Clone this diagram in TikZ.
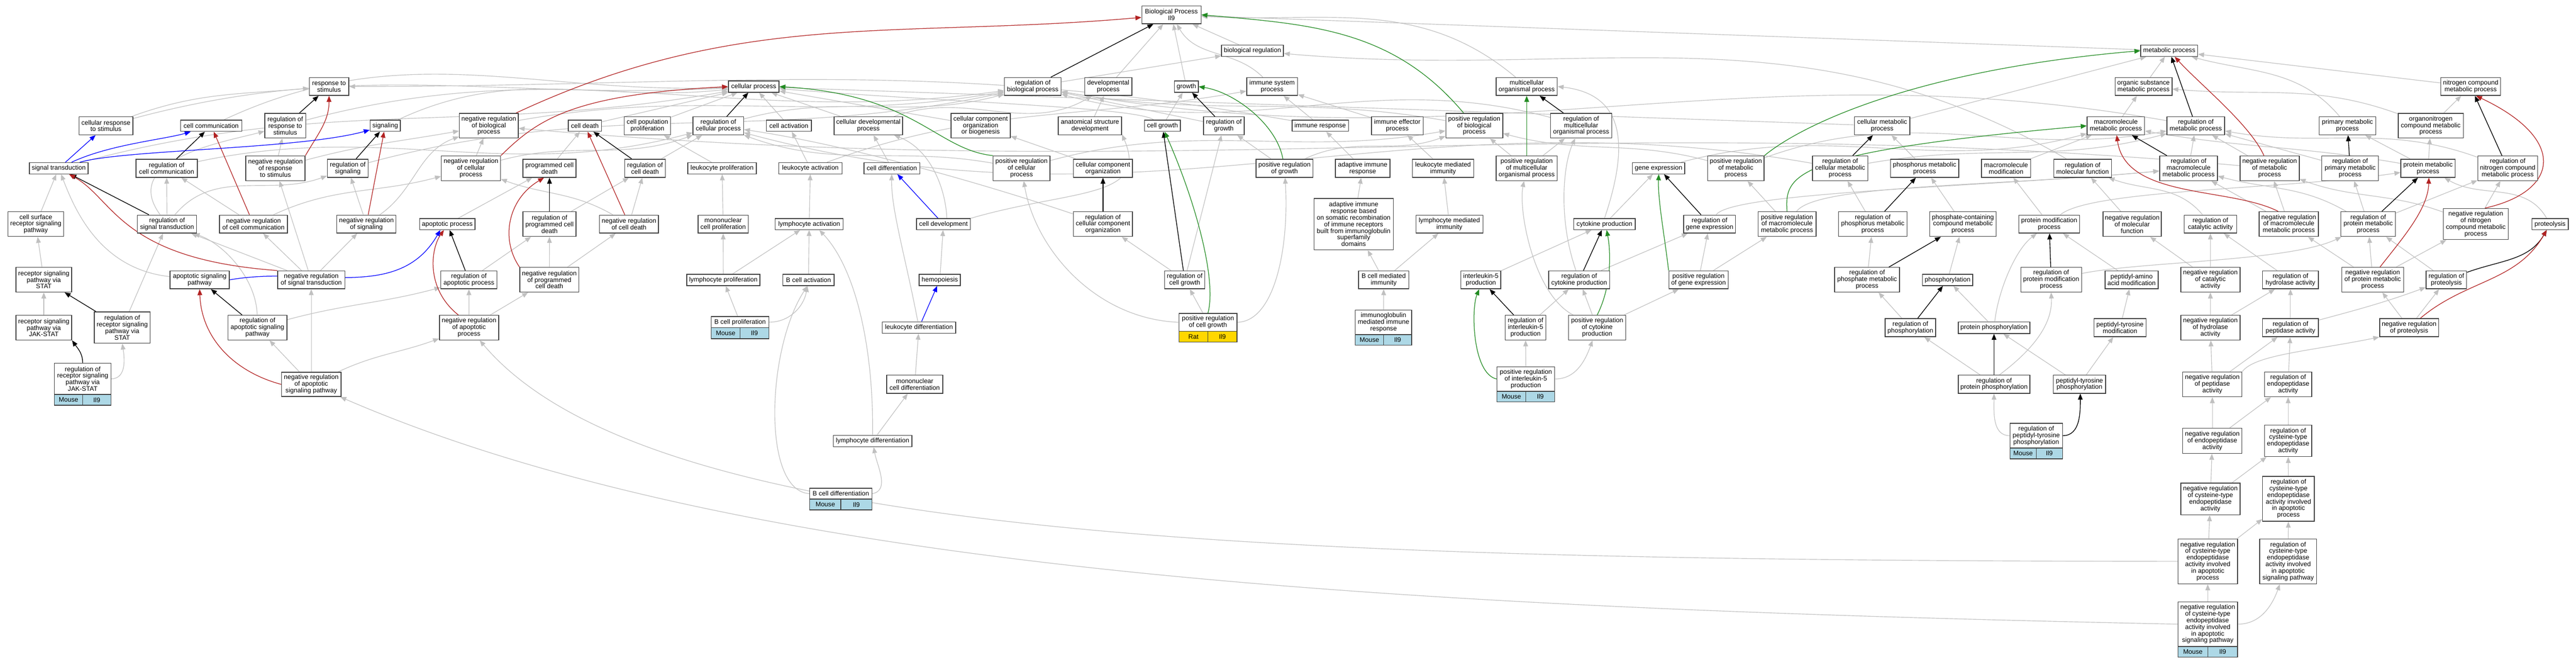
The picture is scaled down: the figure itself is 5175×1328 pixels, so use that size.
\documentclass[tikz,border=0pt]{standalone}
\usepackage{fontspec}
\setmainfont{Liberation Sans}
\usetikzlibrary{arrows.meta,backgrounds}
\definecolor{isagray}{RGB}{192,192,192}
\definecolor{nregred}{RGB}{178,34,34}
\definecolor{pregreen}{RGB}{34,139,34}
\definecolor{annoblue}{RGB}{173,216,230}
\definecolor{annogold}{RGB}{255,215,0}
\newcommand{\tfont}{\fontsize{1.3pt}{1.33pt}\selectfont}
\tikzset{
 term/.style={draw=black!75, line width=0.15pt, fill=white, align=center, inner sep=0pt, font=\tfont, text=black},
 cellbox/.style={draw=black!75, line width=0.15pt, inner sep=0pt, font=\tfont, text=black},
 Mouse/.style={fill=annoblue},
 Rat/.style={fill=annogold},
 lnk/.style={line width=0.12pt, -{Triangle[length=1.2pt,width=0.95pt]}},
 isa/.style={lnk, color=isagray},
 reg/.style={lnk, color=black, line width=0.14pt},
 nreg/.style={lnk, color=nregred, line width=0.13pt},
 preg/.style={lnk, color=pregreen, line width=0.13pt},
 partof/.style={lnk, color=blue, line width=0.13pt}
}
\newcommand{\T}[6]{\node[term,minimum width={#4*0.1pt},minimum height={#5*0.1pt}] (#1) at (#2,#3) {#6};}
\newcommand{\TA}[9]{%
 \node[term,minimum width={#4*0.1pt},minimum height={#5*0.1pt}] (#1) at (#2,#3) {#9};
 \pgfmathsetmacro{\hw}{#4*0.05}%
 \pgfmathsetmacro{\xl}{#2-#4/4}%
 \pgfmathsetmacro{\xr}{#2+#4/4}%
 \node[cellbox,#8,minimum width=\hw pt,minimum height={#7*0.1pt}] (#1-s) at (\xl,#6) {#8};
 \node[cellbox,#8,minimum width=\hw pt,minimum height={#7*0.1pt}] (#1-g) at (\xr,#6) {Il9};
}
\begin{document}
\begin{tikzpicture}[x=0.1pt,y=-0.1pt]
\useasboundingbox (0,0) rectangle (5175,1328);
% row 1-2
\T{bp}{2353.3}{29.7}{119}{36}{Biological Process\\Il9}
\T{breg}{2516.1}{101.9}{124.4}{22.6}{biological regulation}
\T{mp}{4357.8}{101.9}{114.4}{22.6}{metabolic process}
% row 3
\T{resp}{661}{173.7}{79}{36}{response to\\stimulus}
\T{cp}{1514.2}{173.9}{101.7}{22.6}{cellular process}
\T{rbp}{2074.7}{173.7}{113.9}{36}{regulation of\\biological process}
\T{devp}{2226.4}{173.7}{95}{36}{developmental\\process}
\T{growth}{2383.3}{173.9}{47.8}{22.6}{growth}
\T{isp}{2555.6}{173.7}{102.3}{36}{immune system\\process}
\T{mop}{3067}{173.7}{122.8}{36}{multicellular\\organismal process}
\T{osmp}{4306.1}{173.7}{114.4}{36}{organic substance\\metabolic process}
\T{npmp}{4963.4}{173.7}{120.1}{36}{nitrogen compound\\metabolic process}
% row 4
\T{crs}{212.8}{252.6}{108}{36}{cellular response\\to stimulus}
\T{ccom}{424.2}{252.4}{123}{22.6}{cell communication}
\T{rrs}{573}{252.4}{82}{49.4}{regulation of\\response to\\stimulus}
\T{sig}{773.9}{252.4}{61}{22.6}{signaling}
\T{nrbp}{982}{252.4}{118.3}{49.4}{negative regulation\\of biological\\process}
\T{cd}{1175}{252.4}{66.7}{22.6}{cell death}
\T{cpp}{1300.6}{252.6}{93.3}{36}{cell population\\proliferation}
\T{rcp}{1443}{252.6}{101.7}{36}{regulation of\\cellular process}
\T{cact}{1584.7}{252.4}{90.6}{22.6}{cell activation}
\T{cdp}{1744.5}{252.6}{137.7}{36}{cellular developmental\\process}
\T{ccob}{1970}{252.4}{118.9}{49.4}{cellular component\\organization\\or biogenesis}
\T{asd}{2189.7}{252.6}{127.2}{36}{anatomical structure\\development}
\T{cgrowth}{2335.3}{252.4}{71.7}{22.6}{cell growth}
\T{rgrowth}{2458.6}{252.6}{81.7}{36}{regulation of\\growth}
\T{iresp}{2652.2}{252.4}{113.3}{22.6}{immune response}
\T{iep}{2807}{252.6}{103.9}{36}{immune effector\\process}
\T{prbp}{2961.7}{252.4}{114.4}{49.4}{positive regulation\\of biological\\process}
\T{rmop}{3176.4}{252.4}{122.8}{49.4}{regulation of\\multicellular\\organismal process}
\T{cmp}{3781.1}{252.6}{111.1}{36}{cellular metabolic\\process}
\T{mmp}{4250.6}{252.6}{115.5}{36}{macromolecule\\metabolic process}
\T{rmp}{4411.2}{252.6}{116.2}{36}{regulation of\\metabolic process}
\T{primp}{4715.9}{252.6}{113.4}{36}{primary metabolic\\process}
\T{oncmp}{4883.2}{252.4}{130.7}{49.4}{organonitrogen\\compound metabolic\\process}
% row 5
\T{st}{118}{337.8}{118}{22.6}{signal transduction}
\T{rcc}{334.7}{337.8}{123}{36.4}{regulation of\\cell communication}
\T{nrrs}{553.3}{337.8}{119}{49.4}{negative regulation\\of response\\to stimulus}
\T{rsig}{698.6}{337.8}{82}{36.4}{regulation of\\signaling}
\T{nrcp}{946.1}{337.8}{118.9}{49.4}{negative regulation\\of cellular\\process}
\T{pcd}{1103.9}{337.8}{106.6}{36.4}{programmed cell\\death}
\T{rcd}{1295.8}{337.8}{81.7}{36.4}{regulation of\\cell death}
\T{lprol}{1450.6}{337.8}{137.8}{22.6}{leukocyte proliferation}
\T{lact}{1628}{337.8}{127.2}{22.6}{leukocyte activation}
\T{cdiff}{1791.7}{337.8}{112.2}{22.6}{cell differentiation}
\T{prcp}{2052.2}{337.8}{114.4}{49.4}{positive regulation\\of cellular\\process}
\T{cco}{2215.8}{337.8}{118.3}{36.4}{cellular component\\organization}
\T{prgrowth}{2580.5}{337.8}{114.5}{36.4}{positive regulation\\of growth}
\T{air}{2737.5}{337.8}{109.4}{36.4}{adaptive immune\\response}
\T{lmi}{2898.9}{337.8}{123.3}{36.4}{leukocyte mediated\\immunity}
\T{prmop}{3067}{337.8}{122.8}{49.4}{positive regulation\\of multicellular\\organismal process}
\T{gexp}{3331.9}{337.8}{105}{22.6}{gene expression}
\T{prmp}{3487.2}{337.8}{113.3}{49.4}{positive regulation\\of metabolic\\process}
\T{rcmp}{3696.7}{337.8}{111.1}{49.4}{regulation of\\cellular metabolic\\process}
\T{phmp}{3866.4}{337.8}{137.2}{36.4}{phosphorus metabolic\\process}
\T{mmmod}{4030}{337.8}{98.9}{36.4}{macromolecule\\modification}
\T{rmf}{4183.9}{337.8}{115.6}{36.4}{regulation of\\molecular function}
\T{rmmp}{4396.6}{337.8}{116.2}{49.4}{regulation of\\macromolecule\\metabolic process}
\T{nrmp}{4559.5}{337.8}{119}{49.4}{negative regulation\\of metabolic\\process}
\T{rprimp}{4721.2}{337.8}{114}{49.4}{regulation of\\primary metabolic\\process}
\T{protmp}{4877.7}{337.8}{109.5}{36.4}{protein metabolic\\process}
\T{rncmp}{5037.7}{337.8}{120.1}{49.4}{regulation of\\nitrogen compound\\metabolic process}
% row 6
\T{csrsp}{72}{449.9}{112}{49.8}{cell surface\\receptor signaling\\pathway}
\T{rst}{335.6}{449.9}{119}{36}{regulation of\\signal transduction}
\T{nrcc}{509.2}{449.9}{137}{36}{negative regulation\\of cell communication}
\T{nrsig}{736.1}{449.9}{119}{36}{negative regulation\\of signaling}
\T{apop}{898.6}{450}{111.6}{22}{apoptotic process}
\T{rpcd}{1103.9}{449.9}{106.6}{49.8}{regulation of\\programmed cell\\death}
\T{nrcd}{1263.6}{449.9}{118.3}{36}{negative regulation\\of cell death}
\T{mcprol}{1452.8}{449.9}{101.1}{36}{mononuclear\\cell proliferation}
\T{lymact}{1625.6}{450}{136.7}{22}{lymphocyte activation}
\T{cdev}{1895.3}{450}{108.3}{22}{cell development}
\T{rcco}{2215.8}{449.9}{118.3}{49.8}{regulation of\\cellular component\\organization}
\T{airsr}{2719.4}{449.9}{158.9}{102.8}{adaptive immune\\response based\\on somatic recombination\\of immune receptors\\built from immunoglobulin\\superfamily\\domains}
\T{lymmi}{2911.7}{449.9}{134.5}{36}{lymphocyte mediated\\immunity}
\T{cytp}{3223.3}{450}{123.3}{22}{cytokine production}
\T{rgexp}{3434.4}{449.9}{104.5}{36}{regulation of\\gene expression}
\T{prmmp}{3590}{449.9}{116.6}{49.8}{positive regulation\\of macromolecule\\metabolic process}
\T{rphmp}{3762.2}{449.9}{137.8}{49.8}{regulation of\\phosphorus metabolic\\process}
\T{pcmp}{3943.3}{449.9}{133.3}{49.8}{phosphate-containing\\compound metabolic\\process}
\T{pmp}{4116.7}{449.9}{122.2}{36}{protein modification\\process}
\T{nrmf}{4283.3}{449.9}{116.7}{49.8}{negative regulation\\of molecular\\function}
\T{rca}{4440.5}{449.9}{105.6}{36}{regulation of\\catalytic activity}
\T{nrmmp}{4598}{449.9}{119}{49.8}{negative regulation\\of macromolecule\\metabolic process}
\T{rprotmp}{4757.5}{449.9}{109.5}{49.8}{regulation of\\protein metabolic\\process}
\T{nrncmp}{4973.7}{449.7}{130.7}{62.4}{negative regulation\\of nitrogen\\compound metabolic\\process}
\T{proteol}{5122.9}{450}{72.6}{22}{proteolysis}
% row 7
\T{rspSTAT}{88}{561.6}{112}{49.4}{receptor signaling\\pathway via\\STAT}
\T{asp}{401.1}{561.8}{119}{36}{apoptotic signaling\\pathway}
\T{nrst}{625.3}{561.8}{135}{36}{negative regulation\\of signal transduction}
\T{rap}{942}{561.8}{112.8}{36}{regulation of\\apoptotic process}
\T{nrpcd}{1103.6}{561.6}{118.3}{49.4}{negative regulation\\of programmed\\cell death}
\T{lymprol}{1453.1}{562}{147.2}{22.6}{lymphocyte proliferation}
\T{bcact}{1624.2}{562}{102.8}{22.6}{B cell activation}
\T{hemo}{1888}{562}{82.8}{22.6}{hemopoiesis}
\T{rcgrowth}{2380}{561.8}{81.1}{36}{regulation of\\cell growth}
\T{bcmi}{2779.7}{561.8}{100.6}{36}{B cell mediated\\immunity}
\T{il5p}{2975}{561.8}{80}{36}{interleukin-5\\production}
\T{rcytp}{3172.5}{561.8}{122.8}{36}{regulation of\\cytokine production}
\T{prgexp}{3412.2}{561.8}{118.9}{36}{positive regulation\\of gene expression}
\T{rphosmp}{3750.8}{561.6}{130.5}{49.4}{regulation of\\phosphate metabolic\\process}
\T{phos}{3912.5}{562}{100.6}{22.6}{phosphorylation}
\T{rpmp}{4120.6}{561.6}{122.2}{49.4}{regulation of\\protein modification\\process}
\T{paam}{4282.2}{561.8}{106.7}{36}{peptidyl-amino\\acid modification}
\T{nrca}{4440.5}{561.6}{119}{49.4}{negative regulation\\of catalytic\\activity}
\T{rha}{4601.4}{561.8}{112.2}{36}{regulation of\\hydrolase activity}
\T{nrprotmp}{4766.5}{561.6}{124}{49.4}{negative regulation\\of protein metabolic\\process}
\T{rproteol}{4914.5}{561.8}{81.6}{36}{regulation of\\proteolysis}
% row 8
\T{rspJAK}{88}{657.8}{112}{49.4}{receptor signaling\\pathway via\\JAK-STAT}
\T{rrspSTAT}{245.6}{657.6}{112}{62.8}{regulation of\\receptor signaling\\pathway via\\STAT}
\T{rasp}{517.2}{657.8}{119}{49.4}{regulation of\\apoptotic signaling\\pathway}
\T{nrap}{942.2}{657.8}{118.9}{49.4}{negative regulation\\of apoptotic\\process}
\TA{bcprol}{1486.7}{646.8}{115.6}{22.2}{669}{22}{Mouse}{B cell proliferation}
\T{ldiff}{1846.1}{657.6}{147.8}{23}{leukocyte differentiation}
\TA{prcgrowth}{2426.7}{647}{116.7}{35.6}{675.9}{22.1}{Rat}{positive regulation\\of cell growth}
\TA{igmir}{2779.4}{647.2}{113.3}{49}{682.3}{21.2}{Mouse}{immunoglobulin\\mediated immune\\response}
\T{ril5p}{3064.7}{657.8}{81.7}{49.4}{regulation of\\interleukin-5\\production}
\T{prcytp}{3208.6}{657.8}{115}{49.4}{positive regulation\\of cytokine\\production}
\T{rphos}{3837.8}{657.8}{101.1}{36.4}{regulation of\\phosphorylation}
\T{pphos}{4005.8}{657.8}{143.9}{23.4}{protein phosphorylation}
\T{ptm}{4258.9}{657.8}{104.4}{36.4}{peptidyl-tyrosine\\modification}
\T{nrha}{4440.5}{657.8}{119}{49.4}{negative regulation\\of hydrolase\\activity}
\T{rpa}{4601.4}{657.8}{112.2}{36.4}{regulation of\\peptidase activity}
\T{nrproteol}{4839.7}{657.8}{118.5}{36.4}{negative regulation\\of proteolysis}
% row 9
\TA{rrspJAK}{166.1}{760.6}{113.4}{62.4}{802.7}{21.7}{Mouse}{regulation of\\receptor signaling\\pathway via\\JAK-STAT}
\T{nrasp}{625.3}{771.6}{119.4}{49}{negative regulation\\of apoptotic\\signaling pathway}
\T{mcdiff}{1837.5}{771.4}{112.8}{36.4}{mononuclear\\cell differentiation}
\TA{pril5p}{3065.3}{760.8}{116.1}{49}{796.2}{21.7}{Mouse}{positive regulation\\of interleukin-5\\production}
\T{rpphos}{4005.8}{771.4}{143.9}{36.4}{regulation of\\protein phosphorylation}
\T{ptphos}{4177.5}{771.4}{105}{36.4}{peptidyl-tyrosine\\phosphorylation}
\T{nrpa}{4444.4}{771.6}{119}{49.9}{negative regulation\\of peptidase\\activity}
\T{rea}{4596.7}{771.6}{95}{49.9}{regulation of\\endopeptidase\\activity}
% row 10
\T{lymdiff}{1753}{885.3}{158.3}{23}{lymphocyte differentiation}
\TA{rptphos}{4090.6}{874.6}{105.5}{49.4}{910.2}{21.7}{Mouse}{regulation of\\peptidyl-tyrosine\\phosphorylation}
\T{nrea}{4444.4}{885}{119}{50.3}{negative regulation\\of endopeptidase\\activity}
\T{rctea}{4596.7}{885}{95}{63.3}{regulation of\\cysteine-type\\endopeptidase\\activity}
% row 11
\TA{bcdiff}{1689.2}{991}{125}{22.1}{1012.8}{21.3}{Mouse}{B cell differentiation}
\T{nrctea}{4440.5}{1001.5}{119}{63.7}{negative regulation\\of cysteine-type\\endopeptidase\\activity}
\T{rcteaap}{4597.3}{1001.3}{103.9}{90.2}{regulation of\\cysteine-type\\endopeptidase\\activity involved\\in apoptotic\\process}
% row 12
\T{nrcteaap}{4435.2}{1127}{119.6}{90.2}{negative regulation\\of cysteine-type\\endopeptidase\\activity involved\\in apoptotic\\process}
\T{rcteaasp}{4596.7}{1127}{114}{90.2}{regulation of\\cysteine-type\\endopeptidase\\activity involved\\in apoptotic\\signaling pathway}
% row 13
\TA{nrcteaasp}{4435.2}{1253}{119.6}{89.8}{1308.5}{21.2}{Mouse}{negative regulation\\of cysteine-type\\endopeptidase\\activity involved\\in apoptotic\\signaling pathway}

\begin{pgfonlayer}{background}
\fill[white] (0,0) rectangle (5175,1328);
% ---------- is_a (gray) ----------
\draw[isa] (crs) to[out=20,in=185] (resp);
\draw[isa] (crs) to[out=15,in=183] (cp);
\draw[isa] (ccom) to[out=25,in=182] (cp);
\draw[isa] (rrs) to[out=15,in=188] (rbp);
\draw[isa] (sig) to[out=25,in=186] (cp);
\draw[isa] (st) to[out=15,in=190] (cp);
\draw[isa] (rcc) to[out=12,in=195] (rcp);
\draw[isa] (nrrs) -- (rrs);
\draw[isa] (nrrs) to[out=15,in=190] (nrbp);
\draw[isa] (rsig) to[out=15,in=192] (rbp);
\draw[isa] (csrsp) -- (st);
\draw[isa] (rst) -- (rcc);
\draw[isa] (rst) to[out=50,in=200] (rsig);
\draw[isa] (rst) .. controls (240,320) and (450,285) .. (rrs);
\draw[isa] (nrcc) -- (rcc);
\draw[isa] (nrcc) to[out=25,in=195] (nrcp);
\draw[isa] (nrsig) -- (rsig);
\draw[isa] (nrsig) to[out=35,in=200] (nrbp);
\draw[isa] (apop) -- (pcd);
\draw[isa] (rspSTAT) -- (csrsp);
\draw[isa] (asp) .. controls (200,540) and (150,420) .. (st);
\draw[isa] (nrst) -- (rst);
\draw[isa] (nrst) -- (nrcc);
\draw[isa] (nrst) -- (nrsig);
\draw[isa] (nrst) -- (nrrs);
\draw[isa] (rspJAK) -- (rspSTAT);
\draw[isa] (rrspSTAT) -- (rst);
\draw[isa] (rasp) .. controls (515,560) and (450,490) .. (rst);
\draw[isa] (rasp) to[out=15,in=195] (rap);
\draw[isa] (rrspJAK.east) .. controls (250,760) and (252,730) .. (rrspSTAT.south);
\draw[isa] (nrasp) -- (rasp);
\draw[isa] (nrasp) -- (nrst);
\draw[isa] (nrasp) to[out=25,in=200] (nrap);
\draw[isa] (nrbp) to[out=10,in=190] (rbp);
\draw[isa] (cd) -- (cp);
\draw[isa] (cpp) -- (cp);
\draw[isa] (rcp) to[out=15,in=195] (rbp);
\draw[isa] (cact) -- (cp);
\draw[isa] (cdp) -- (cp);
\draw[isa] (cdp) to[out=20,in=-150] (devp);
\draw[isa] (nrcp) to[out=15,in=200] (rcp);
\draw[isa] (nrcp) -- (nrbp);
\draw[isa] (pcd) -- (cd);
\draw[isa] (rcd) -- (rcp);
\draw[isa] (lprol) -- (cpp);
\draw[isa] (lact) -- (cact);
\draw[isa] (lact) to[out=20,in=190] (isp);
\draw[isa] (rpcd) -- (rcd);
\draw[isa] (nrcd) -- (rcd);
\draw[isa] (nrcd) to[out=150,in=-20] (nrcp);
\draw[isa] (mcprol) -- (lprol);
\draw[isa] (lymact) -- (lact);
\draw[isa] (rap) -- (rpcd);
\draw[isa] (nrpcd) -- (rpcd);
\draw[isa] (nrpcd) -- (nrcd);
\draw[isa] (lymprol) -- (mcprol);
\draw[isa] (lymprol) -- (lymact);
\draw[isa] (bcact) -- (lymact);
\draw[isa] (nrap) -- (rap);
\draw[isa] (nrap) -- (nrpcd);
\draw[isa] (bcprol) -- (lymprol);
\draw[isa] (bcprol.east) to[out=0,in=-100] (bcact);
\draw[isa] (lymdiff) -- (mcdiff);
\draw[isa] (lymdiff.north) .. controls (1755,700) and (1720,540) .. (lymact.-30);
\draw[isa] (bcdiff.east) to[out=10,in=-80] (lymdiff.-80);
\draw[isa] (bcdiff.west) .. controls (1530,985) and (1540,700) .. (bcact.-100);
\draw[isa] (ldiff) .. controls (1820,520) and (1790,420) .. (cdiff);
\draw[isa] (mcdiff) -- (ldiff);
\draw[isa] (rbp) -- (breg);
\draw[isa] (devp) -- (bp);
\draw[isa] (growth) -- (bp);
\draw[isa] (isp) to[out=135,in=-60] (bp);
\draw[isa] (breg) -- (bp);
\draw[isa] (ccob) -- (cp);
\draw[isa] (asd) -- (devp);
\draw[isa] (cgrowth) .. controls (2280,215) and (1900,205) .. (cp);
\draw[isa] (cgrowth) -- (growth);
\draw[isa] (rgrowth) -- (rbp);
\draw[isa] (cdiff) -- (cdp);
\draw[isa] (prcp) to[out=170,in=-20] (rcp);
\draw[isa] (prcp) to[out=15,in=190] (prbp);
\draw[isa] (cco) -- (ccob);
\draw[isa] (prgrowth) -- (rgrowth);
\draw[isa] (prgrowth) to[out=25,in=200] (prbp);
\draw[isa] (cdev.60) .. controls (1900,380) and (1870,300) .. (cdp.-20);
\draw[isa] (cdev.north east) .. controls (2150,380) and (2310,400) .. (asd.-15);
\draw[isa] (rcco) .. controls (1980,370) and (1700,290) .. (rcp);
\draw[isa] (hemo) -- (cdev);
\draw[isa] (rcgrowth) -- (rgrowth);
\draw[isa] (rcgrowth) -- (rcco);
\draw[isa] (prcgrowth) -- (rcgrowth);
\draw[isa] (prcgrowth.west) .. controls (2200,640) and (2080,500) .. (prcp);
\draw[isa] (prcgrowth.east) .. controls (2560,645) and (2590,500) .. (prgrowth);
\draw[isa] (mop) to[out=140,in=-3] (bp);
\draw[isa] (iresp) -- (isp);
\draw[isa] (iresp) to[out=170,in=0] (resp);
\draw[isa] (iep) -- (isp);
\draw[isa] (prbp) to[out=170,in=-10] (rbp);
\draw[isa] (rmop) to[out=165,in=-15] (rbp);
\draw[isa] (air) -- (iresp);
\draw[isa] (lmi) -- (iep);
\draw[isa] (prmop) -- (rmop);
\draw[isa] (prmop) -- (prbp);
\draw[isa] (gexp) to[out=15,in=195] (mmp);
\draw[isa] (airsr) -- (air);
\draw[isa] (lymmi) -- (lmi);
\draw[isa] (cytp.north) .. controls (3270,300) and (3270,190) .. (mop.east);
\draw[isa] (cytp) -- (gexp);
\draw[isa] (rgexp) .. controls (3480,385) and (4000,375) .. (rmmp);
\draw[isa] (bcmi) -- (airsr);
\draw[isa] (bcmi) -- (lymmi);
\draw[isa] (il5p) -- (cytp);
\draw[isa] (rcytp) .. controls (3130,440) and (3140,330) .. (rmop);
\draw[isa] (rcytp) -- (rgexp);
\draw[isa] (prgexp) -- (rgexp);
\draw[isa] (prgexp) -- (prmmp);
\draw[isa] (igmir) -- (bcmi);
\draw[isa] (ril5p) -- (rcytp);
\draw[isa] (prcytp) -- (rcytp);
\draw[isa] (prcytp) .. controls (3080,590) and (3050,420) .. (prmop);
\draw[isa] (prcytp) -- (prgexp);
\draw[isa] (pril5p) -- (ril5p);
\draw[isa] (pril5p.east) to[out=0,in=-110] (prcytp);
\draw[isa] (mp) -- (bp);
\draw[isa] (osmp) -- (mp);
\draw[isa] (cmp) -- (mp);
\draw[isa] (cmp) -- (cp);
\draw[isa] (mmp) -- (osmp);
\draw[isa] (prmp) to[out=20,in=190] (rmp);
\draw[isa] (prmp) to[out=165,in=-15] (prbp);
\draw[isa] (rcmp) to[out=10,in=195] (rmp);
\draw[isa] (rcmp) to[out=170,in=-15] (rcp);
\draw[isa] (phmp) -- (cmp);
\draw[isa] (mmmod) -- (mmp);
\draw[isa] (rmf) to[out=150,in=-5] (breg);
\draw[isa] (prmmp) .. controls (3650,370) and (4000,375) .. (rmmp);
\draw[isa] (prmmp) -- (prmp);
\draw[isa] (rphmp) -- (rcmp);
\draw[isa] (pcmp) -- (phmp);
\draw[isa] (pmp) -- (mmmod);
\draw[isa] (pmp) .. controls (4200,380) and (4600,380) .. (protmp);
\draw[isa] (nrmf) -- (rmf);
\draw[isa] (rphosmp) -- (rphmp);
\draw[isa] (phos) -- (pcmp);
\draw[isa] (rpmp) .. controls (4300,525) and (4600,525) .. (rprotmp);
\draw[isa] (paam) -- (pmp);
\draw[isa] (rphos) -- (rphosmp);
\draw[isa] (pphos) -- (phos);
\draw[isa] (pphos) .. controls (4015,580) and (4050,500) .. (pmp);
\draw[isa] (ptm) -- (paam);
\draw[isa] (rpphos) -- (rphos);
\draw[isa] (rpphos.60) .. controls (4100,690) and (4123,640) .. (rpmp.south);
\draw[isa] (ptphos) -- (pphos);
\draw[isa] (ptphos) -- (ptm);
\draw[isa] (rptphos.west) to[out=180,in=-90] (rpphos.south);
\draw[isa] (npmp) -- (mp);
\draw[isa] (oncmp) to[out=160,in=-5] (osmp);
\draw[isa] (oncmp) -- (npmp);
\draw[isa] (rmp) to[out=170,in=-10] (rbp);
\draw[isa] (primp) to[out=130,in=-15] (mp);
\draw[isa] (rmmp) -- (rmp);
\draw[isa] (nrmp) -- (rmp);
\draw[isa] (nrmp) to[out=175,in=-5] (nrbp);
\draw[isa] (rprimp) -- (rmp);
\draw[isa] (protmp) -- (primp);
\draw[isa] (protmp) -- (oncmp);
\draw[isa] (protmp) to[out=170,in=-10] (mmp);
\draw[isa] (rncmp) to[out=160,in=-10] (rmp);
\draw[isa] (rca) to[out=130,in=-20] (rmf);
\draw[isa] (nrmmp) -- (rmmp);
\draw[isa] (nrmmp) -- (nrmp);
\draw[isa] (rprotmp) -- (rprimp);
\draw[isa] (rprotmp) to[out=150,in=-15] (rmmp);
\draw[isa] (rprotmp) -- (rncmp);
\draw[isa] (nrncmp) -- (rncmp);
\draw[isa] (nrncmp) to[out=160,in=-20] (nrmp);
\draw[isa] (proteol) to[out=120,in=-30] (protmp);
\draw[isa] (nrca) -- (rca);
\draw[isa] (nrca) -- (nrmf);
\draw[isa] (rha) -- (rca);
\draw[isa] (nrprotmp) -- (rprotmp);
\draw[isa] (nrprotmp) -- (nrmmp);
\draw[isa] (nrprotmp) -- (nrncmp);
\draw[isa] (rproteol) -- (rprotmp);
\draw[isa] (nrha) -- (nrca);
\draw[isa] (nrha) -- (rha);
\draw[isa] (rpa) -- (rha);
\draw[isa] (rpa) to[out=15,in=200] (rproteol);
\draw[isa] (nrproteol) -- (rproteol);
\draw[isa] (nrproteol) -- (nrprotmp);
\draw[isa] (nrpa) -- (nrha);
\draw[isa] (nrpa) -- (rpa);
\draw[isa] (nrpa.north east) .. controls (4530,712) and (4640,705) .. (nrproteol.south west);
\draw[isa] (rea) -- (rpa);
\draw[isa] (nrea) -- (nrpa);
\draw[isa] (nrea) -- (rea);
\draw[isa] (rctea) -- (rea);
\draw[isa] (nrctea) -- (nrea);
\draw[isa] (nrctea) -- (rctea);
\draw[isa] (rcteaap) -- (rctea);
\draw[isa] (nrcteaap) -- (nrctea);
\draw[isa] (nrcteaap) -- (rcteaap);
\draw[isa] (nrcteaap.west) .. controls (2500,1125) and (1300,1080) .. (nrap);
\draw[isa] (rcteaasp) -- (rcteaap);
\draw[isa] (nrcteaasp) -- (nrcteaap);
\draw[isa] (nrcteaasp.east) to[out=0,in=-110] (rcteaasp);
\draw[isa] (nrcteaasp.west) .. controls (2800,1220) and (1500,1150) .. (nrasp);
% ---------- regulates (black) ----------
\draw[reg] (rrs) -- (resp);
\draw[reg] (rcc) -- (ccom);
\draw[reg] (rsig) -- (sig);
\draw[reg] (rst) -- (st);
\draw[reg] (rrspSTAT) -- (rspSTAT);
\draw[reg] (rasp) -- (asp);
\draw[reg] (rrspJAK.north) to[out=90,in=-55] (rspJAK.south east);
\draw[reg] (rbp) -- (bp);
\draw[reg] (rcp) -- (cp);
\draw[reg] (rcd) -- (cd);
\draw[reg] (rpcd) -- (pcd);
\draw[reg] (rap) -- (apop);
\draw[reg] (rcco) -- (cco);
\draw[reg] (rgrowth) -- (growth);
\draw[reg] (rcgrowth) -- (cgrowth);
\draw[reg] (rmop) -- (mop);
\draw[reg] (rgexp) -- (gexp);
\draw[reg] (rcytp) -- (cytp);
\draw[reg] (ril5p) -- (il5p);
\draw[reg] (rcmp) -- (cmp);
\draw[reg] (rphmp) -- (phmp);
\draw[reg] (rphosmp) -- (pcmp);
\draw[reg] (rpmp) -- (pmp);
\draw[reg] (rphos) -- (phos);
\draw[reg] (rpphos) -- (pphos);
\draw[reg] (rptphos.east) to[out=0,in=-90] (ptphos.-85);
\draw[reg] (rmp) -- (mp);
\draw[reg] (rmmp) -- (mmp);
\draw[reg] (rprimp) -- (primp);
\draw[reg] (rncmp) -- (npmp);
\draw[reg] (rprotmp) -- (protmp);
\draw[reg] (rproteol) to[out=20,in=-120] (proteol);
% ---------- negatively regulates (red) ----------
\draw[nreg] (nrbp) to[out=25,in=185] (bp);
\draw[nreg] (nrrs.north east) to[out=60,in=-90] (resp.south);
\draw[nreg] (nrcc) -- (ccom);
\draw[nreg] (nrsig) -- (sig);
\draw[nreg] (nrst.north west) .. controls (240,520) and (230,400) .. (st.-30);
\draw[nreg] (nrasp.west) to[out=165,in=-88] (asp.south);
\draw[nreg] (nrcp.north east) .. controls (1080,240) and (1150,190) .. (cp.west);
\draw[nreg] (nrcd) -- (cd);
\draw[nreg] (nrpcd.north west) .. controls (1005,480) and (1020,400) .. (pcd.-120);
\draw[nreg] (nrap.130) .. controls (855,580) and (865,500) .. (apop.-120);
\draw[nreg] (nrmp) .. controls (4520,250) and (4420,170) .. (mp);
\draw[nreg] (nrmmp.130) .. controls (4480,375) and (4270,400) .. (mmp.-85);
\draw[nreg] (nrncmp.60) .. controls (5140,385) and (5160,280) .. (npmp.-60);
\draw[nreg] (nrprotmp.60) .. controls (4825,480) and (4878,420) .. (protmp.-85);
\draw[nreg] (nrproteol) to[out=40,in=-120] (proteol);
% ---------- positively regulates (green) ----------
\draw[preg] (prbp.130) to[out=130,in=-5] (bp.east);
\draw[preg] (prcp.north west) .. controls (1880,300) and (1840,190) .. (cp.east);
\draw[preg] (prgrowth.100) .. controls (2565,250) and (2480,185) .. (growth.east);
\draw[preg] (prcgrowth.north) .. controls (2445,560) and (2400,400) .. (cgrowth.-70);
\draw[preg] (prmop) -- (mop);
\draw[preg] (prgexp.north west) .. controls (3345,480) and (3330,400) .. (gexp.-88);
\draw[preg] (prcytp.north) .. controls (3240,570) and (3235,500) .. (cytp.-70);
\draw[preg] (pril5p.west) .. controls (2958,750) and (2955,620) .. (il5p.-100);
\draw[preg] (prmp.north east) .. controls (3620,250) and (3850,140) .. (mp.west);
\draw[preg] (prmmp.north) .. controls (3585,350) and (3600,305) .. (mmp.west);
% ---------- part of (blue) ----------
\draw[partof] (st) -- (crs);
\draw[partof] (st) .. controls (220,290) and (330,280) .. (ccom);
\draw[partof] (st) .. controls (250,300) and (600,300) .. (sig);
\draw[partof] (asp.east) to[out=10,in=-120] (apop.220);
\draw[partof] (cdev) -- (cdiff);
\draw[partof] (ldiff) -- (hemo);
\end{pgfonlayer}
\end{tikzpicture}
\end{document}
